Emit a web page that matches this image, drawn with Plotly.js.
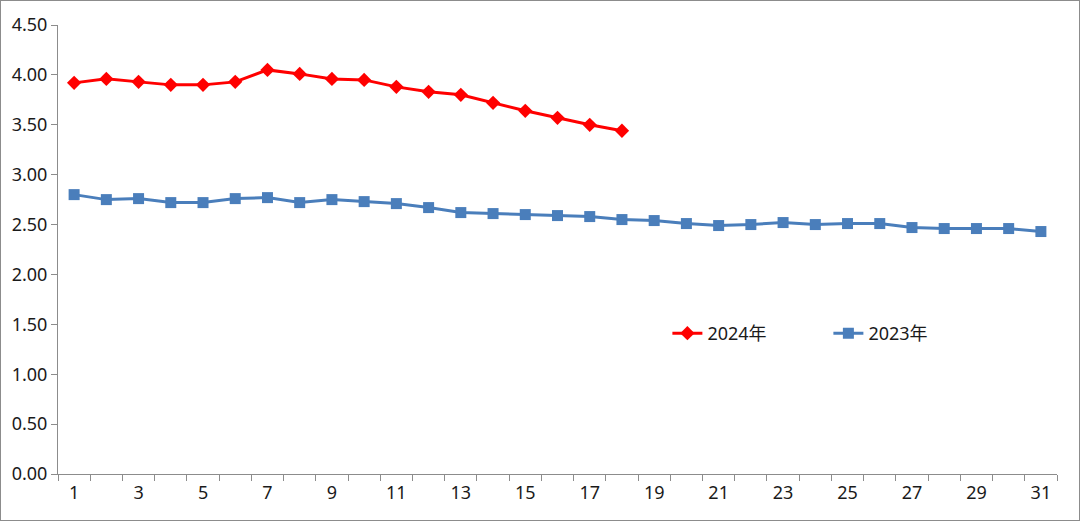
<!DOCTYPE html>
<html>
<head>
<meta charset="utf-8">
<script src="https://cdn.plot.ly/plotly-3.0.1.min.js"></script>
<style>
html,body{margin:0;padding:0;background:#fff;}
#frame{width:1080px;height:521px;box-sizing:border-box;border:1px solid #8c8c8c;position:relative;overflow:hidden;}
#chart{position:absolute;left:-1px;top:-1px;width:1080px;height:521px;}
</style>
</head>
<body>
<div id="frame"><div id="chart"></div></div>
<script>
const days = Array.from({length:31},(_,i)=>i+1);
const tickLabels = ['1','3','5','7','9','11','13','15','17','19','21','23','25','27','29','31'];
const tickPositions = [1,3,5,7,9,11,13,15,17,19,21,23,25,27,29,31];
const name2024 = '2024年';
const name2023 = '2023年';
const values2024 = [3.92,3.96,3.93,3.90,3.90,3.93,4.05,4.01,3.96,3.95,3.88,3.83,3.80,3.72,3.64,3.57,3.50,3.44];
const values2023 = [2.80,2.75,2.76,2.72,2.72,2.76,2.77,2.72,2.75,2.73,2.71,2.67,2.62,2.61,2.60,2.59,2.58,2.55,2.54,2.51,2.49,2.50,2.52,2.50,2.51,2.51,2.47,2.46,2.46,2.46,2.43];

const font = {family:'"Noto Sans", "Noto Sans CJK SC", sans-serif', size:18, color:'#1a1a1a'};

const traces = [
  {x: days.slice(0, values2024.length), y: values2024, name: name2024, type:'scatter', mode:'lines+markers',
   line:{color:'#ff0000', width:3}, marker:{symbol:'diamond', size:11, color:'#ff0000'}},
  {x: days, y: values2023, name: name2023, type:'scatter', mode:'lines+markers',
   line:{color:'#4a7ebb', width:3}, marker:{symbol:'square', size:11, color:'#4a7ebb'}}
];

const layout = {
  width:1080, height:521,
  margin:{l:58, r:23, t:25, b:47},
  paper_bgcolor:'#fff', plot_bgcolor:'#fff',
  font: font,
  showlegend:true,
  legend:{orientation:'h', x:0.610, y:0.313, xanchor:'left', yanchor:'middle', font:font, bgcolor:'rgba(0,0,0,0)', entrywidth:116},
  xaxis:{range:[0.5,31.5], tickvals:tickPositions, ticktext:tickLabels, ticks:'', showgrid:false, zeroline:false,
    showline:true, linecolor:'#8c8c8c', linewidth:1,
    minor:{tick0:0.5, dtick:1, ticks:'outside', ticklen:6, tickcolor:'#8c8c8c', showgrid:false},
    tickfont:font, ticklabelstandoff:2},
  yaxis:{range:[0,4.5], dtick:0.5, tick0:0, tickformat:'.2f', ticks:'outside', ticklen:6, tickcolor:'#8c8c8c',
    showgrid:false, zeroline:false, showline:true, linecolor:'#8c8c8c', linewidth:1, tickfont:font}
};

Plotly.newPlot('chart', traces, layout, {displayModeBar:false, staticPlot:true});
</script>
</body>
</html>
